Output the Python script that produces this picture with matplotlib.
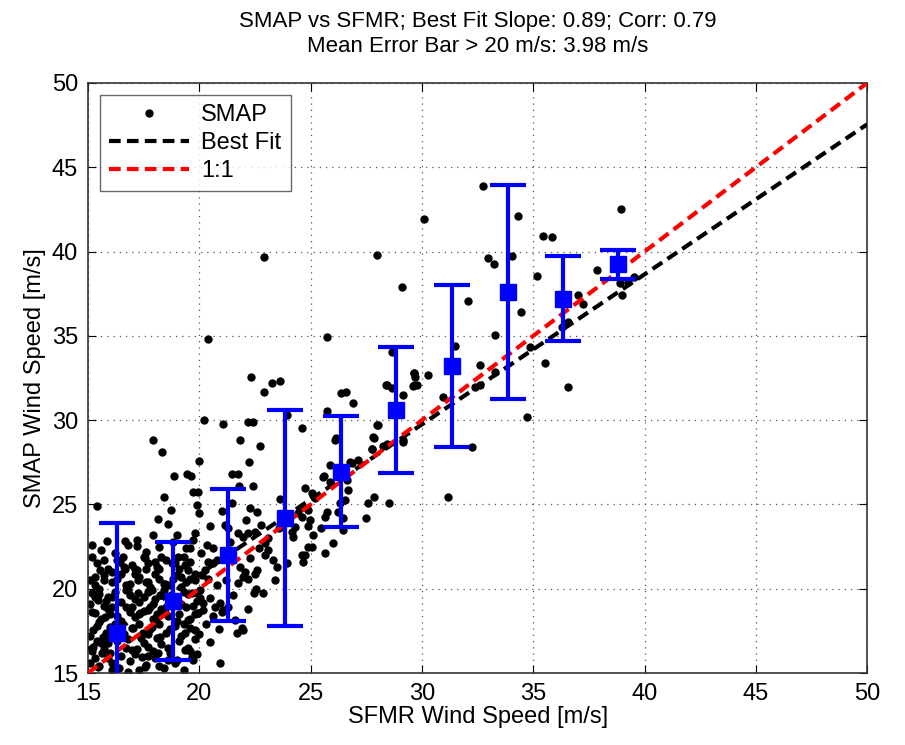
import numpy as np
import matplotlib.pyplot as plt

plt.rcParams['font.family'] = ['Liberation Sans', 'DejaVu Sans']

# SMAP vs SFMR collocations (m/s)
sfmr = [
    22.92, 27.97, 29.09, 20.38, 25.75, 22.32, 23.28, 23.63, 22.92, 26.35, 26.59, 26.92,
    28.42, 28.67, 29.65, 29.65, 29.17, 25.75, 23.92, 24.63, 20.22, 21.08, 22.20, 22.40,
    17.93, 18.31, 21.83, 22.73, 20.00, 22.23, 18.88, 19.43, 19.63, 21.45, 21.72, 21.78,
    22.43, 26.10, 25.60, 27.86, 28.01, 27.74, 26.77, 29.17,
    15.39, 18.41, 19.73, 18.13, 18.58, 18.73, 19.81, 15.84, 17.19, 17.93, 16.66, 19.58,
    15.54, 15.30, 15.70, 16.66, 17.10, 17.60, 18.20, 17.26, 17.70, 18.46, 19.20, 19.50,
    19.80, 15.17, 15.46, 15.91, 16.81, 17.26, 17.86, 18.23, 19.66, 20.03, 15.31, 15.76,
    16.06, 16.96, 17.34, 17.71, 18.08, 18.46, 19.50, 19.96, 15.24, 15.69, 15.99, 17.03,
    17.48, 17.86, 18.23, 19.36, 19.81, 15.24, 15.62, 15.91, 16.96, 17.41, 17.71, 18.16,
    18.60, 19.36, 19.66, 15.46, 16.06, 16.81, 17.56, 16.59, 16.44, 17.56, 18.00, 18.76,
    19.06, 19.36, 15.17,
    19.96, 19.88, 19.99, 21.45, 22.28, 22.58, 21.15, 21.30, 21.72, 21.98, 22.20, 22.50,
    22.77, 22.95, 23.32, 23.48, 23.40, 20.33, 20.08, 20.40, 20.63, 20.78, 20.26, 20.11,
    21.83, 22.05, 22.50, 22.58, 21.72, 21.95, 22.20, 22.53, 22.47, 22.87, 22.20, 19.88,
    20.03, 20.18, 20.48, 20.70, 20.93, 21.08, 19.96, 20.18, 21.60, 21.68, 21.90, 20.48,
    20.93, 23.10, 22.95, 23.63, 24.15, 24.30, 24.45, 24.60, 24.90, 25.12, 24.60, 24.67,
    24.22, 24.60, 24.97, 23.92, 21.00, 21.98,
    28.39, 28.67, 29.66, 29.61, 27.97, 27.82, 26.13, 28.42, 27.74, 28.27, 29.17, 25.87,
    26.85, 27.14, 25.57, 25.87, 26.62, 26.69, 24.75, 25.05, 25.20, 26.55, 26.32, 27.59,
    27.86, 28.54, 25.72, 25.65, 26.24, 27.48, 24.90, 25.47, 25.12, 24.90, 25.08, 26.02,
    25.65, 24.75, 26.47, 26.47,
    32.76, 30.11, 34.30, 35.45, 35.83, 32.98, 33.24, 34.03, 35.15, 34.45, 33.28, 32.08,
    31.49, 32.61, 34.86, 35.53, 36.55, 34.71, 30.29, 29.69, 29.77, 30.96, 32.61, 32.39,
    33.28, 36.27, 36.55, 37.03, 37.85, 38.95, 38.90, 38.97, 39.27, 39.54, 37.25, 32.24,
    31.19,
    15.10, 15.50, 15.90, 16.40, 16.90, 17.30, 17.60, 18.00, 18.40, 18.90, 19.30, 19.70,
    15.20, 15.60, 16.00, 16.30, 16.70, 17.10, 17.50, 17.90, 18.30, 18.70, 19.10, 19.50,
    19.90, 15.10, 15.40, 15.80, 16.20, 16.60, 17.00, 17.40, 17.80, 18.20, 18.50, 18.90,
    19.20, 19.60, 20.00, 15.20, 15.60, 15.90, 16.30, 16.70, 17.10, 17.50, 17.90, 18.30,
    18.60, 19.00, 19.40, 19.80, 15.10, 15.50, 15.80, 16.20, 16.50, 16.90, 17.30, 17.70,
    18.00, 18.40, 18.80, 19.20, 19.50, 19.90, 15.30, 15.70, 16.10, 16.50, 16.90, 17.30,
    17.80, 18.20, 18.60, 19.00, 19.40, 19.80, 15.40, 15.90, 16.30, 17.00, 17.50, 18.10,
    18.50, 19.10, 19.60, 15.60, 16.80, 17.60, 18.80, 19.40,
    15.30, 15.70, 16.10, 16.50, 17.20, 17.70, 18.20, 18.60, 19.00, 19.60,
    15.40, 15.90, 16.40, 16.80, 17.30, 17.70, 18.10, 18.70, 19.30, 19.80,
    15.50, 16.00, 16.50, 16.90, 17.30, 17.80, 18.10, 18.50, 19.10, 19.60,
    15.30, 15.70, 16.10, 16.70, 17.10, 17.50, 17.90, 18.30, 18.70, 19.30, 19.70,
    15.10, 15.50, 16.30, 16.70, 17.10, 17.60, 18.00, 18.40, 18.80, 19.20, 19.60,
    15.70, 16.10, 16.60, 17.20, 17.70, 18.30, 18.90, 19.30,
    15.20, 16.20, 17.20, 18.20, 19.00, 19.70,
    20.30, 20.60, 20.90, 21.30, 20.40, 20.80, 21.20, 21.50, 21.10, 20.60, 21.40, 22.30,
    22.70, 23.10, 23.60, 22.10, 21.00, 20.50,
]
smap = [
    39.66, 39.79, 37.91, 34.79, 34.95, 32.57, 32.22, 32.32, 31.69, 31.62, 31.69, 31.03,
    32.08, 34.06, 32.77, 32.08, 31.49, 30.56, 30.30, 29.51, 30.00, 29.80, 29.90, 29.90,
    28.82, 28.13, 28.85, 28.48, 27.57, 27.49, 26.68, 26.78, 26.68, 26.80, 26.80, 26.09,
    26.09, 28.85, 26.68, 28.96, 29.71, 28.27, 27.53, 28.71,
    24.90, 25.46, 25.74, 24.12, 23.82, 24.67, 23.29, 22.83, 22.53, 23.18, 22.83, 22.39,
    21.11, 20.70, 20.50, 21.20, 21.20, 21.20, 21.20, 20.50, 20.40, 20.30, 20.70, 21.10,
    20.50, 19.73, 19.33, 19.53, 19.92, 19.73, 19.92, 19.63, 19.73, 19.92, 18.54, 18.34,
    18.93, 18.93, 18.54, 18.74, 18.34, 18.54, 18.14, 18.54, 17.55, 17.15, 17.75, 17.65,
    17.35, 17.75, 17.15, 17.35, 17.55, 16.56, 16.17, 16.76, 16.36, 15.97, 16.56, 16.17,
    15.77, 16.36, 15.97, 15.37, 15.18, 15.08, 15.37, 21.90, 21.60, 21.80, 21.60, 21.50,
    21.90, 21.40, 21.90,
    25.75, 24.96, 24.47, 25.10, 24.79, 24.56, 23.78, 23.58, 23.29, 23.09, 23.29, 23.38,
    23.78, 22.70, 21.70, 21.30, 20.54, 22.59, 22.10, 21.60, 21.50, 21.70, 21.10, 20.80,
    21.30, 21.00, 20.90, 21.10, 20.36, 20.70, 20.55, 19.96, 19.73, 19.73, 18.82, 19.73,
    19.43, 19.13, 19.43, 18.93, 19.13, 18.74, 18.54, 18.74, 18.14, 17.35, 17.65, 16.86,
    15.57, 22.30, 22.00, 25.34, 23.38, 23.68, 24.47, 24.86, 24.67, 25.56, 22.00, 21.60,
    23.09, 24.27, 24.07, 21.50, 18.60, 17.55,
    32.08, 31.89, 32.80, 32.00, 29.70, 29.02, 28.92, 28.60, 28.30, 28.47, 28.82, 27.34,
    27.44, 27.63, 26.64, 26.35, 26.45, 25.85, 25.95, 25.66, 25.36, 25.26, 25.07, 25.10,
    25.46, 25.07, 24.56, 24.27, 24.56, 24.17, 23.72, 23.58, 23.18, 22.50, 22.46, 22.70,
    22.14, 22.00, 23.48, 24.17,
    43.88, 41.96, 42.10, 40.92, 40.88, 39.59, 39.29, 39.73, 38.55, 36.44, 35.05, 37.06,
    34.40, 33.27, 34.36, 33.37, 31.98, 30.18, 32.67, 32.57, 32.08, 31.39, 32.08, 31.95,
    32.87, 35.54, 35.84, 37.42, 38.91, 42.50, 38.11, 37.42, 38.19, 38.49, 36.88, 28.43,
    25.46,
    15.60, 15.40, 15.90, 15.30, 15.70, 15.20, 15.50, 15.90, 15.30, 15.60, 15.20, 15.80,
    16.30, 16.80, 16.20, 16.90, 16.50, 16.10, 16.80, 16.30, 16.70, 16.20, 16.90, 16.50,
    16.10, 17.20, 17.80, 17.40, 17.90, 17.30, 17.70, 17.10, 17.60, 17.90, 17.40, 17.80,
    17.20, 17.70, 17.30, 18.60, 18.20, 18.80, 18.40, 18.90, 18.30, 18.70, 18.20, 18.80,
    18.40, 18.10, 18.90, 18.50, 19.10, 19.70, 19.30, 19.80, 19.20, 19.60, 19.20, 19.80,
    19.40, 19.90, 19.50, 19.10, 19.70, 19.30, 20.20, 20.80, 20.40, 20.90, 20.30, 20.70,
    20.10, 20.60, 20.20, 20.80, 20.40, 20.90, 21.50, 21.20, 21.70, 21.40, 21.90, 21.30,
    21.70, 21.20, 21.60, 22.30, 22.60, 22.20, 22.80, 22.40,
    15.90, 16.40, 15.60, 16.00, 16.40, 16.00, 15.40, 16.50, 15.80, 16.30,
    16.90, 17.10, 17.50, 17.00, 17.90, 17.30, 17.10, 17.60, 17.90, 17.00,
    18.00, 18.50, 18.10, 18.60, 18.50, 18.90, 18.50, 18.90, 18.50, 18.20,
    19.50, 19.00, 19.50, 19.90, 19.40, 19.50, 19.10, 19.60, 19.20, 19.80, 19.00,
    20.50, 20.00, 20.60, 20.20, 20.90, 20.40, 20.90, 20.30, 20.60, 20.10, 20.60,
    21.70, 21.00, 21.30, 21.10, 21.50, 21.90, 21.50, 21.90,
    22.60, 22.10, 22.90, 22.50, 23.20, 22.90,
    17.90, 18.40, 17.60, 18.90, 20.60, 20.20, 20.50, 19.60, 21.90, 22.40, 22.80, 21.80,
    22.40, 23.00, 23.60, 24.10, 24.60, 23.70,
]

# binned means and error bars (2.5 m/s SFMR bins)
bin_x = [16.30, 18.80, 21.30, 23.85, 26.35, 28.85, 31.35, 33.85, 36.35, 38.80]
bin_mean = [17.40, 19.30, 22.00, 24.20, 26.95, 30.62, 33.20, 37.60, 37.20, 39.25]
bin_err = [6.50, 3.50, 3.90, 6.40, 3.30, 3.73, 4.80, 6.33, 2.52, 0.85]

slope = 0.89
intercept = 3.05
line_x = np.array([15, 50])

fig = plt.figure(figsize=(9.05, 7.45), dpi=100)
ax = fig.add_axes([0.0972, 0.0966, 0.861, 0.792])

ax.plot(sfmr, smap, 'k.', markersize=10, label='SMAP', zorder=2)
ax.plot(line_x, slope * line_x + intercept, 'k--', lw=3, dashes=(2.8, 1.5),
        label='Best Fit', zorder=3)
ax.plot(line_x, line_x, 'r--', lw=3, dashes=(2.8, 1.5), label='1:1', zorder=3)
ax.errorbar(bin_x, bin_mean, yerr=bin_err, fmt='s', color='#0000ff', ms=11,
            elinewidth=3, capsize=13, capthick=3, zorder=4)

ax.set_xlim(15, 50)
ax.set_ylim(15, 50)
ax.set_xticks(range(15, 51, 5))
ax.set_yticks(range(15, 51, 5))
ax.grid(True, linestyle=(0, (1, 4)), color='#555555', lw=0.9)
ax.tick_params(direction='in', top=True, right=True, labelsize=17, length=6, pad=7)
for s in ax.spines.values():
    s.set_linewidth(1.2)
    s.set_color('#333333')

ax.set_xlabel('SFMR Wind Speed [m/s]', fontsize=17, labelpad=1)
ax.set_ylabel('SMAP Wind Speed [m/s]', fontsize=17, labelpad=4)
ax.set_title('SMAP vs SFMR; Best Fit Slope: 0.89; Corr: 0.79\n'
             'Mean Error Bar > 20 m/s: 3.98 m/s', fontsize=16, linespacing=1.25, pad=22)

leg = ax.legend(loc='upper left', fontsize=17, fancybox=False, edgecolor='#444444',
                handlelength=3.4, borderaxespad=0.5, labelspacing=0.25, handletextpad=0.5,
                borderpad=0.4)
leg.get_frame().set_linewidth(1.0)

fig.savefig('out.png', dpi=100)
